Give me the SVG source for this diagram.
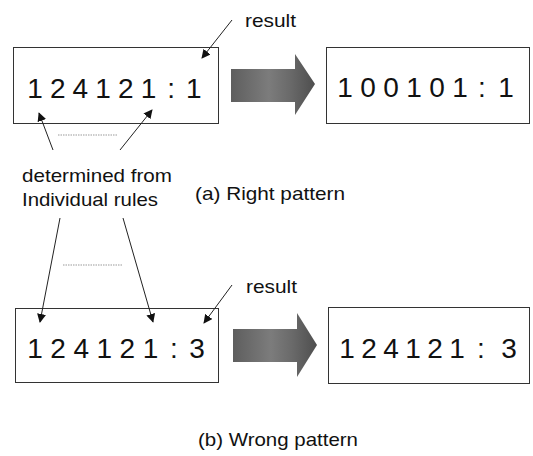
<svg xmlns="http://www.w3.org/2000/svg" width="533" height="456" viewBox="0 0 533 456">
<style>
.box{fill:#fff;stroke:#333;stroke-width:1}
.num{font-family:"Liberation Sans",Arial,sans-serif;font-size:28px;fill:#111;text-anchor:middle}
.lbl{font-family:"Liberation Sans",Arial,sans-serif;font-size:19px;fill:#111}
.conn{stroke:#222;stroke-width:1;fill:none;marker-end:url(#ah)}
.dot{stroke:#999;stroke-width:1;stroke-dasharray:1.5 1}
.big{fill:url(#g);stroke:none}
</style>
<defs>
<marker id="ah" viewBox="0 0 10 10" refX="9" refY="5" markerWidth="9" markerHeight="9" markerUnits="userSpaceOnUse" orient="auto">
<path d="M0,0 L10,5 L0,10 z" fill="#111"/>
</marker>
<linearGradient id="g" x1="0" y1="0" x2="1" y2="0">
<stop offset="0" stop-color="#5e5e5e"/>
<stop offset="0.45" stop-color="#7c7c7c"/>
<stop offset="0.7" stop-color="#6a6a6a"/>
<stop offset="1" stop-color="#4e4e4e"/>
</linearGradient>
</defs>

<g id="box-a-in">
<rect class="box" x="13.5" y="47.5" width="205" height="76"/>
<text class="num" x="35 57.7 80.4 103.1 125.8 148.5 171.2 193.9" y="98">124121:1</text>
</g>
<g id="box-a-out">
<rect class="box" x="326.5" y="47.5" width="203" height="76"/>
<text class="num" x="345 368 391 414 437 460 482 506" y="97">100101:1</text>
</g>
<g id="box-b-in">
<rect class="box" x="15.5" y="308.5" width="203" height="74"/>
<text class="num" x="35 58.1 81.2 104.3 127.4 150.5 174 197" y="358">124121:3</text>
</g>
<g id="box-b-out">
<rect class="box" x="328.5" y="307.5" width="201" height="76"/>
<text class="num" x="347 369 391 413 435 457 481 509" y="358">124121:3</text>
</g>
<g id="arrow-a">
<polygon class="big" points="231,69 295,69 295,54 315,84 295,115 295,102 231,102"/>
</g>
<g id="arrow-b">
<polygon class="big" points="233,329 297,329 297,313 317,345 297,377 297,362 233,362"/>
</g>

<g id="labels">
<text class="lbl" x="245" y="27" textLength="51" lengthAdjust="spacingAndGlyphs">result</text>
<text class="lbl" x="22" y="182" textLength="150" lengthAdjust="spacingAndGlyphs">determined from</text>
<text class="lbl" x="22" y="206" textLength="136" lengthAdjust="spacingAndGlyphs">Individual rules</text>
<text class="lbl" x="195" y="200" font-size="18" textLength="150" lengthAdjust="spacingAndGlyphs">(a) Right pattern</text>
<text class="lbl" x="246" y="293" textLength="51" lengthAdjust="spacingAndGlyphs">result</text>
<text class="lbl" x="198" y="446" font-size="18" textLength="160" lengthAdjust="spacingAndGlyphs">(b) Wrong pattern</text>
</g>

<g id="connectors">
<line class="conn" x1="232" y1="20" x2="202" y2="58"/>
<line class="conn" x1="53" y1="150" x2="39" y2="113"/>
<line class="conn" x1="120" y1="150" x2="152" y2="110"/>
<line class="conn" x1="60" y1="218" x2="40" y2="322"/>
<line class="conn" x1="123" y1="218" x2="153" y2="322"/>
<line class="conn" x1="232" y1="285" x2="204" y2="323"/>
<line class="dot" x1="58" y1="135" x2="118" y2="135"/>
<line class="dot" x1="63" y1="265" x2="123" y2="265"/>
</g>
</svg>
